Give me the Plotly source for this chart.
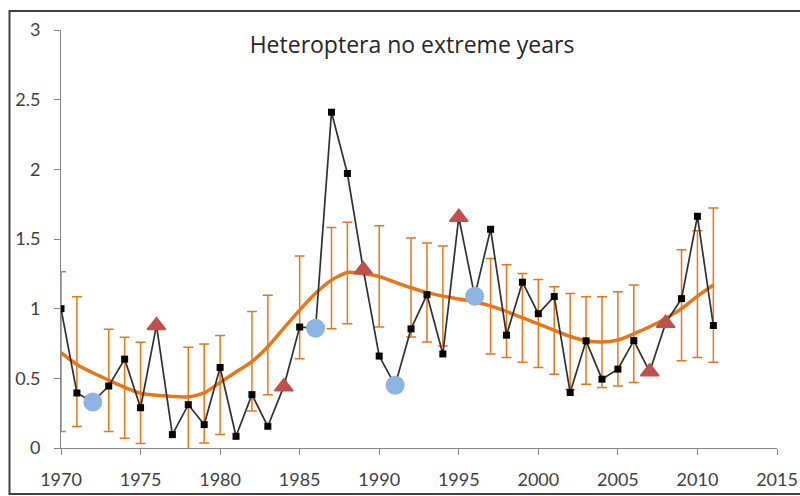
import plotly.graph_objects as go

years = list(range(1970, 2012))
values = [1.00, 0.395, 0.33, 0.445, 0.638, 0.289, 0.88, 0.096, 0.311, 0.168,
          0.578, 0.084, 0.383, 0.156, 0.44, 0.868, 0.86, 2.41, 1.97, 1.28,
          0.66, 0.45, 0.855, 1.10, 0.675, 1.656, 1.09, 1.57, 0.81, 1.19,
          0.964, 1.087, 0.398, 0.769, 0.494, 0.566, 0.771, 0.547, 0.896, 1.072,
          1.663, 0.879]
smooth = [0.684, 0.60, 0.54, 0.487, 0.435, 0.393, 0.378, 0.37, 0.366, 0.395,
          0.47, 0.545, 0.62, 0.727, 0.86, 0.99, 1.11, 1.205, 1.26, 1.25,
          1.23, 1.19, 1.15, 1.115, 1.09, 1.07, 1.05, 1.02, 0.98, 0.935,
          0.89, 0.845, 0.80, 0.77, 0.76, 0.775, 0.82, 0.87, 0.93, 1.00,
          1.09, 1.17]
circle_years = [1972, 1986, 1991, 1996]
triangle_years = [1976, 1984, 1989, 1995, 2007, 2008]
err_years = [1970, 1971, 1973, 1974, 1975, 1978, 1979, 1980, 1982, 1983,
             1985, 1987, 1988, 1990, 1992, 1993, 1994, 1997, 1998, 1999,
             2000, 2001, 2002, 2003, 2004, 2005, 2006, 2009, 2010, 2011]
ci_upper = [1.265, 1.085, 0.853, 0.795, 0.759, 0.723, 0.747, 0.807, 0.98, 1.096,
            1.378, 1.583, 1.62, 1.595, 1.508, 1.472, 1.45, 1.36, 1.316, 1.253,
            1.21, 1.157, 1.108, 1.085, 1.085, 1.121, 1.169, 1.422, 1.56, 1.723]
ci_lower = [0.118, 0.154, 0.118, 0.07, 0.033, -0.01, 0.036, 0.096, 0.265, 0.383,
            0.641, 0.855, 0.891, 0.868, 0.797, 0.761, 0.732, 0.675, 0.65, 0.615,
            0.578, 0.53, 0.42, 0.458, 0.434, 0.445, 0.47, 0.626, 0.65, 0.615]
title_text = "Heteroptera no extreme years"

val_of = dict(zip(years, values))
sm_of = dict(zip(years, smooth))

ORANGE = "#E8761B"
fig = go.Figure()

# error bars on the smoothed trend
err_y = [sm_of[y] for y in err_years]
fig.add_trace(go.Scatter(
    x=err_years, y=err_y, mode="markers",
    marker=dict(size=1, color="rgba(0,0,0,0)"),
    error_y=dict(type="data", symmetric=False,
                 array=[u - c for u, c in zip(ci_upper, err_y)],
                 arrayminus=[c - l for l, c in zip(ci_lower, err_y)],
                 color=ORANGE, thickness=1.5, width=5),
    showlegend=False, hoverinfo="skip"))

# smooth trend line
fig.add_trace(go.Scatter(
    x=years, y=smooth, mode="lines",
    line=dict(color=ORANGE, width=3.5, shape="spline", smoothing=0.6),
    showlegend=False))

# data series
fig.add_trace(go.Scatter(
    x=years, y=values, mode="lines+markers",
    line=dict(color="#303030", width=1.7),
    marker=dict(symbol="square", size=7, color="#000000"),
    showlegend=False))

fig.add_trace(go.Scatter(
    x=circle_years, y=[val_of[y] for y in circle_years], mode="markers",
    marker=dict(symbol="circle", size=19, color="#8DB4E2"),
    showlegend=False))

fig.add_trace(go.Scatter(
    x=triangle_years, y=[val_of[y] for y in triangle_years], mode="markers",
    marker=dict(symbol="triangle-up", size=16, color="#C0504D",
                line=dict(color="#C0504D", width=1.5)),
    showlegend=False))

axis_font = dict(family="Lato, 'Open Sans', sans-serif", size=18, color="#404040")

fig.update_layout(
    width=800, height=496,
    margin=dict(l=61, r=23, t=30, b=48),
    paper_bgcolor="white", plot_bgcolor="white",
    title=dict(text=title_text, x=0.515, y=1 - 45 / 496,
               xanchor="center", yanchor="middle",
               font=dict(family="'Open Sans', sans-serif", size=23, color="#262626")),
    xaxis=dict(range=[1970, 2015], tickmode="linear", tick0=1970, dtick=5,
               showgrid=False, zeroline=False, showline=True,
               linecolor="#868686", linewidth=1,
               ticks="outside", ticklen=6, tickcolor="#868686",
               tickfont=axis_font, ticklabelstandoff=9, automargin=False),
    yaxis=dict(range=[0, 3], tickmode="linear", tick0=0, dtick=0.5,
               showgrid=False, zeroline=False, showline=True,
               linecolor="#868686", linewidth=1,
               ticks="outside", ticklen=6, tickcolor="#868686",
               tickfont=axis_font, ticklabelstandoff=10, automargin=False),
    shapes=[dict(type="rect", xref="paper", yref="paper",
                 x0=(9.5 - 61) / 716, x1=1.06,
                 y0=(448 - 494) / 418, y1=(448 - 11) / 418,
                 line=dict(color="#404040", width=2), fillcolor="rgba(0,0,0,0)",
                 layer="below")],
)

fig.write_html("out.html")
